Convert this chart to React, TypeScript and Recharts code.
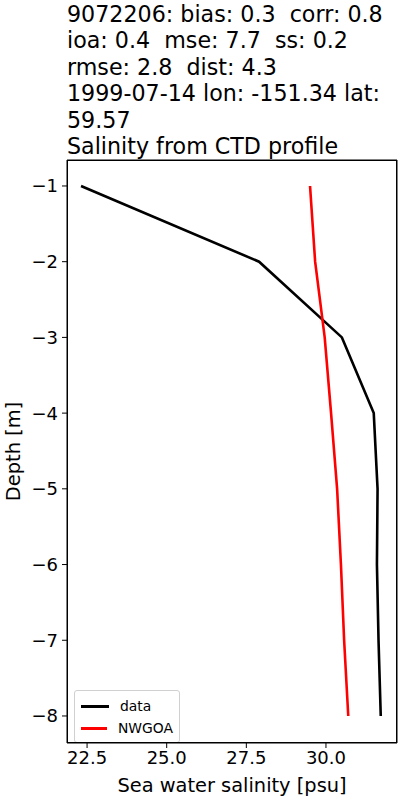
import React from 'react';
import { ScatterChart, Scatter, XAxis, YAxis, Legend, ReferenceLine } from 'recharts';

const depths = [-1, -2, -3, -4, -5, -6, -7, -8];
const dataSalinity = [22.31, 27.9, 30.5, 31.5, 31.62, 31.6, 31.65, 31.72];
const modelSalinity = [29.5, 29.66, 29.96, 30.16, 30.35, 30.47, 30.57, 30.7];
const xTicks = [22.5, 25.0, 27.5, 30.0];
const yTicks = [-1, -2, -3, -4, -5, -6, -7, -8];
const xDomain = [21.87, 32.23];
const yDomain = [-8.357, -0.657];
const titleLines = [
  '9072206: bias: 0.3  corr: 0.8',
  'ioa: 0.4  mse: 7.7  ss: 0.2',
  'rmse: 2.8  dist: 4.3',
  '1999-07-14 lon: -151.34 lat:',
  '59.57',
  'Salinity from CTD profile',
];
const seriesNames = ['data', 'NWGOA'];
const seriesColors = ['#000000', '#ff0000'];

const dataPoints = depths.map((d, i) => ({ sal: dataSalinity[i], depth: d }));
const modelPoints = depths.map((d, i) => ({ sal: modelSalinity[i], depth: d }));

const FONT = 'DejaVu Sans, sans-serif';
const CHART_W = 400;
const CHART_H = 800;
const MARGIN = { top: 160, right: 3, bottom: 7, left: 7 };
const Y_AXIS_W = 60;
const X_AXIS_H = 50;

const EmptyShape = () => <g />;

const fmtMinus = (v: number, digits: number) => {
  const s = Math.abs(v).toFixed(digits);
  return v < 0 ? '\u2212' + s : s;
};

const YLabel = (props: any) => {
  const vb = props.viewBox || { x: 7, y: 160, width: 60, height: 583 };
  const cx = 13;
  const cy = vb.y + vb.height / 2;
  return (
    <text
      x={cx}
      y={cy}
      transform={`rotate(-90 ${cx} ${cy})`}
      textAnchor="middle"
      dominantBaseline="central"
      fontFamily={FONT}
      fontSize={19.4}
      fill="#000"
    >
      Depth [m]
    </text>
  );
};

const XLabel = (props: any) => {
  const vb = props.viewBox || { x: 67, y: 743, width: 330, height: 50 };
  const cx = vb.x + vb.width / 2;
  const cy = 785;
  return (
    <text
      x={cx}
      y={cy}
      textAnchor="middle"
      dominantBaseline="central"
      fontFamily={FONT}
      fontSize={19.4}
      fill="#000"
    >
      Sea water salinity [psu]
    </text>
  );
};

const LegendBox = () => (
  <div
    style={{
      border: '1px solid #d0d0d0',
      borderRadius: 3,
      background: 'rgba(255,255,255,0.8)',
      padding: '4px 6px 3px 6px',
      fontFamily: FONT,
      fontSize: 13.9,
      width: 92,
      boxSizing: 'content-box',
    }}
  >
    {seriesNames.map((n, i) => (
      <div key={n} style={{ display: 'flex', alignItems: 'center', height: 22 }}>
        <div style={{ width: 28, height: 3, background: seriesColors[i], marginRight: 11 }} />
        <span style={{ color: '#000', lineHeight: '22px' }}>{n}</span>
      </div>
    ))}
  </div>
);

export default function App() {
  const plotLeft = MARGIN.left + Y_AXIS_W;
  const plotTop = MARGIN.top;
  const plotW = CHART_W - plotLeft - MARGIN.right;
  const plotH = CHART_H - MARGIN.top - MARGIN.bottom - X_AXIS_H;
  return (
    <div style={{ position: 'fixed', left: 0, top: 0, width: CHART_W, height: CHART_H, background: '#fff' }}>
      <div
        style={{
          position: 'absolute',
          left: 67,
          top: 1,
          fontFamily: FONT,
          fontSize: 22.2,
          lineHeight: '26.4px',
          color: '#000',
          whiteSpace: 'pre',
          zIndex: 2,
        }}
      >
        {titleLines.map((t) => (
          <div key={t}>{t}</div>
        ))}
      </div>
      <div style={{ position: 'absolute', left: 0, top: 0, zIndex: 1 }}>
        <ScatterChart width={CHART_W} height={CHART_H} margin={MARGIN}>
          <XAxis
            type="number"
            dataKey="sal"
            xAxisId="b"
            domain={xDomain}
            ticks={xTicks}
            tickFormatter={(v: number) => fmtMinus(v, 1)}
            allowDataOverflow
            height={X_AXIS_H}
            tickSize={5}
            tickMargin={3}
            stroke="#000"
            tick={{ fill: '#000', fontFamily: FONT, fontSize: 18 }}
            label={<XLabel />}
          />
          <YAxis
            type="number"
            dataKey="depth"
            yAxisId="l"
            domain={yDomain}
            ticks={yTicks}
            tickFormatter={(v: number) => fmtMinus(v, 0)}
            allowDataOverflow
            width={Y_AXIS_W}
            tickSize={5}
            tickMargin={4}
            stroke="#000"
            tick={{ fill: '#000', fontFamily: FONT, fontSize: 18 }}
            label={<YLabel />}
          />
          <ReferenceLine xAxisId="b" yAxisId="l" y={yDomain[1]} stroke="#000" strokeWidth={1} ifOverflow="visible" />
          <ReferenceLine xAxisId="b" yAxisId="l" x={xDomain[1]} stroke="#000" strokeWidth={1} ifOverflow="visible" />
          <Scatter
            name={seriesNames[0]}
            data={dataPoints}
            xAxisId="b"
            yAxisId="l"
            fill={seriesColors[0]}
            line={{ stroke: seriesColors[0], strokeWidth: 2.6 }}
            lineType="joint"
            shape={EmptyShape}
            isAnimationActive={false}
          />
          <Scatter
            name={seriesNames[1]}
            data={modelPoints}
            xAxisId="b"
            yAxisId="l"
            fill={seriesColors[1]}
            line={{ stroke: seriesColors[1], strokeWidth: 2.6 }}
            lineType="joint"
            shape={EmptyShape}
            isAnimationActive={false}
          />
          <Legend
            layout="horizontal"
            verticalAlign="middle"
            align="center"
            content={<LegendBox />}
            wrapperStyle={{ left: 74, top: 690, width: 'auto', height: 'auto' }}
          />
        </ScatterChart>
      </div>
      <div
        style={{
          position: 'absolute',
          left: plotLeft,
          top: plotTop,
          width: plotW,
          height: plotH,
          border: '1px solid #000',
          boxSizing: 'border-box',
          pointerEvents: 'none',
          zIndex: 5,
        }}
      />
    </div>
  );
}
